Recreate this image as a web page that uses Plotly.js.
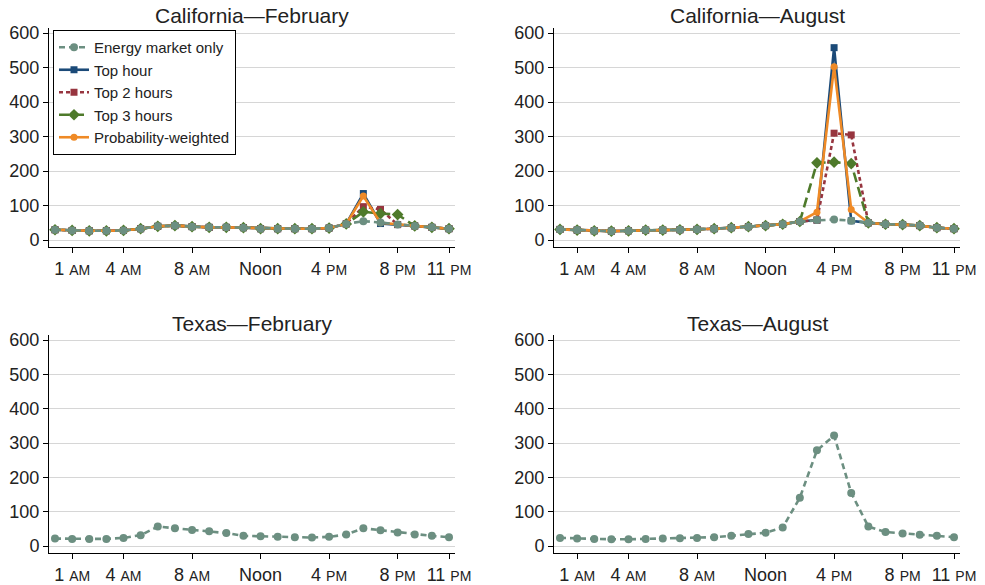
<!DOCTYPE html>
<html>
<head>
<meta charset="utf-8">
<script src="https://cdn.plot.ly/plotly-3.0.1.min.js"></script>
<style>
    html, body {margin: 0; padding: 0; background: #fff;}
    #chart {width: 985px; height: 585px;}
</style>
</head>
<body>
<div id="chart"></div>
<script>
// hours 0 (midnight) .. 23
const hours = [0, 1, 2, 3, 4, 5, 6, 7, 8, 9, 10, 11, 12, 13, 14, 15, 16, 17, 18, 19, 20, 21, 22, 23];
const tick_vals = [1, 4, 8, 12, 16, 20, 23];
const tick_text = ["1 AM", "4 AM", "8 AM", "Noon", "4 PM", "8 PM", "11 PM"];
const y_ticks = [0, 100, 200, 300, 400, 500, 600];

const series_names = ["Energy market only", "Top hour", "Top 2 hours", "Top 3 hours", "Probability-weighted"];
const panel_titles = ["California\u2014February", "California\u2014August", "Texas\u2014February", "Texas\u2014August"];

// California - February
const ca_feb_energy = [30, 28, 27, 27, 28, 33, 40, 42, 39, 37, 37, 36, 33, 33, 33, 33, 35, 47, 55, 51, 45, 41, 37, 33];
const ca_feb_top1   = [30, 28, 27, 27, 28, 33, 40, 42, 39, 37, 37, 36, 33, 33, 33, 33, 35, 47, 135, 48, 45, 41, 37, 33];
const ca_feb_top2   = [30, 28, 27, 27, 28, 33, 40, 42, 39, 37, 37, 36, 33, 33, 33, 33, 35, 47, 97, 89, 45, 41, 37, 33];
const ca_feb_top3   = [30, 28, 27, 27, 28, 33, 40, 42, 39, 37, 37, 36, 33, 33, 33, 33, 35, 47, 82, 77, 74, 41, 37, 33];
const ca_feb_prob   = [30, 28, 27, 27, 28, 33, 40, 42, 39, 37, 37, 36, 33, 33, 33, 33, 35, 47, 128, 50, 45, 41, 37, 33];

// California - August
const ca_aug_energy = [31, 29, 27, 26, 27, 29, 29, 30, 31, 33, 36, 39, 42, 46, 54, 58, 60, 56, 50, 46, 45, 42, 36, 33];
const ca_aug_top1   = [31, 29, 27, 26, 27, 29, 29, 30, 31, 33, 36, 39, 42, 46, 54, 58, 558, 56, 50, 46, 45, 42, 36, 33];
const ca_aug_top2   = [31, 29, 27, 26, 27, 29, 29, 30, 31, 33, 36, 39, 42, 46, 54, 58, 310, 305, 50, 46, 45, 42, 36, 33];
const ca_aug_top3   = [31, 29, 27, 26, 27, 29, 29, 30, 31, 33, 36, 39, 42, 46, 54, 224, 226, 222, 50, 46, 45, 42, 36, 33];
const ca_aug_prob   = [31, 29, 27, 26, 27, 29, 29, 30, 31, 33, 36, 39, 42, 46, 54, 81, 503, 89, 50, 46, 45, 42, 36, 33];

// Texas (energy market only)
const tx_feb_energy = [22, 21, 21, 21, 24, 32, 57, 52, 47, 43, 38, 30, 29, 27, 26, 25, 27, 34, 52, 46, 40, 34, 30, 26];
const tx_aug_energy = [24, 22, 21, 20, 20, 21, 22, 23, 24, 26, 30, 35, 39, 54, 141, 279, 322, 155, 57, 41, 37, 33, 30, 26];

const font_family = "Liberation Sans, Arial, Helvetica, sans-serif";

// style per series, same order as series_names
const styles = [
    {color: "#6c8f81", dash: "6px,4px", symbol: "circle", size: 8, rank: 1},
    {color: "#1b4a78", dash: "solid", symbol: "square", size: 7, rank: 2},
    {color: "#97353f", dash: "4px,3px", symbol: "square", size: 7, rank: 3},
    {color: "#4e7a2b", dash: "10px,5px", symbol: "diamond", size: 9, rank: 4},
    {color: "#ef8a26", dash: "solid", symbol: "circle", size: 7, rank: 5},
];

const make_trace = (values, style_index, name, axis_suffix, show_legend) => {
    const st = styles[style_index];
    return {
        x: hours,
        y: values,
        type: "scatter",
        mode: "lines+markers",
        name: name,
        legendrank: st.rank,
        showlegend: show_legend,
        xaxis: "x" + axis_suffix,
        yaxis: "y" + axis_suffix,
        line: {color: st.color, width: 2.6, dash: st.dash},
        marker: {color: st.color, symbol: st.symbol, size: st.size},
        hoverinfo: "x+y+name"
    };
};

// energy drawn last so it sits on top, legend order kept by legendrank
const data = [
    make_trace(ca_feb_top1, 1, series_names[1], "", true),
    make_trace(ca_feb_top2, 2, series_names[2], "", true),
    make_trace(ca_feb_top3, 3, series_names[3], "", true),
    make_trace(ca_feb_prob, 4, series_names[4], "", true),
    make_trace(ca_feb_energy, 0, series_names[0], "", true),

    make_trace(ca_aug_top1, 1, series_names[1], "2", false),
    make_trace(ca_aug_top2, 2, series_names[2], "2", false),
    make_trace(ca_aug_top3, 3, series_names[3], "2", false),
    make_trace(ca_aug_prob, 4, series_names[4], "2", false),
    make_trace(ca_aug_energy, 0, series_names[0], "2", false),

    make_trace(tx_feb_energy, 0, series_names[0], "3", false),
    make_trace(tx_aug_energy, 0, series_names[0], "4", false),
];

const small_caps = (label) => label.replace(/ (AM|PM)$/, " <span style='font-size:14px'>$1</span>");

const x_axis = (domain, anchor) => ({
    domain: domain,
    anchor: anchor,
    range: [-0.35, 23.35],
    tickmode: "array",
    tickvals: tick_vals,
    ticktext: tick_text.map(small_caps),
    ticks: "outside",
    ticklen: 5,
    tickcolor: "#000",
    showline: true,
    linecolor: "#000",
    linewidth: 1,
    showgrid: false,
    zeroline: false,
    tickfont: {size: 18, color: "#222"}
});

const y_axis = (domain, anchor) => ({
    domain: domain,
    anchor: anchor,
    range: [-20, 615],
    tickmode: "array",
    tickvals: y_ticks,
    ticks: "outside",
    ticklen: 5,
    tickcolor: "#000",
    showline: true,
    linecolor: "#000",
    linewidth: 1,
    showgrid: true,
    gridcolor: "#d6d6d6",
    gridwidth: 1,
    zeroline: false,
    tickfont: {size: 18, color: "#222"}
});

const left_x = [49 / 985, 455 / 985];
const right_x = [554 / 985, 960 / 985];
const top_y = [338 / 585, 557 / 585];
const bottom_y = [32 / 585, 250 / 585];

const title_pos = [[252, 15], [757, 15], [252, 323], [757, 323]];

const layout = {
    width: 985,
    height: 585,
    margin: {l: 0, r: 0, t: 0, b: 0},
    paper_bgcolor: "#fff",
    plot_bgcolor: "#fff",
    font: {family: font_family, color: "#222"},
    showlegend: true,
    xaxis: x_axis(left_x, "y"),
    yaxis: y_axis(top_y, "x"),
    xaxis2: x_axis(right_x, "y2"),
    yaxis2: y_axis(top_y, "x2"),
    xaxis3: x_axis(left_x, "y3"),
    yaxis3: y_axis(bottom_y, "x3"),
    xaxis4: x_axis(right_x, "y4"),
    yaxis4: y_axis(bottom_y, "x4"),
    legend: {
        x: 53 / 985,
        y: 555 / 585,
        xanchor: "left",
        yanchor: "top",
        bgcolor: "#fff",
        bordercolor: "#000",
        borderwidth: 1,
        font: {size: 15, color: "#222"},
        tracegroupgap: 0,
        itemwidth: 30
    },
    annotations: panel_titles.map((t, i) => ({
        text: t,
        xref: "paper",
        yref: "paper",
        x: title_pos[i][0] / 985,
        y: 1 - title_pos[i][1] / 585,
        xanchor: "center",
        yanchor: "middle",
        showarrow: false,
        font: {size: 21, color: "#222"}
    }))
};

Plotly.newPlot("chart", data, layout, {displayModeBar: false, staticPlot: true});
</script>
</body>
</html>
